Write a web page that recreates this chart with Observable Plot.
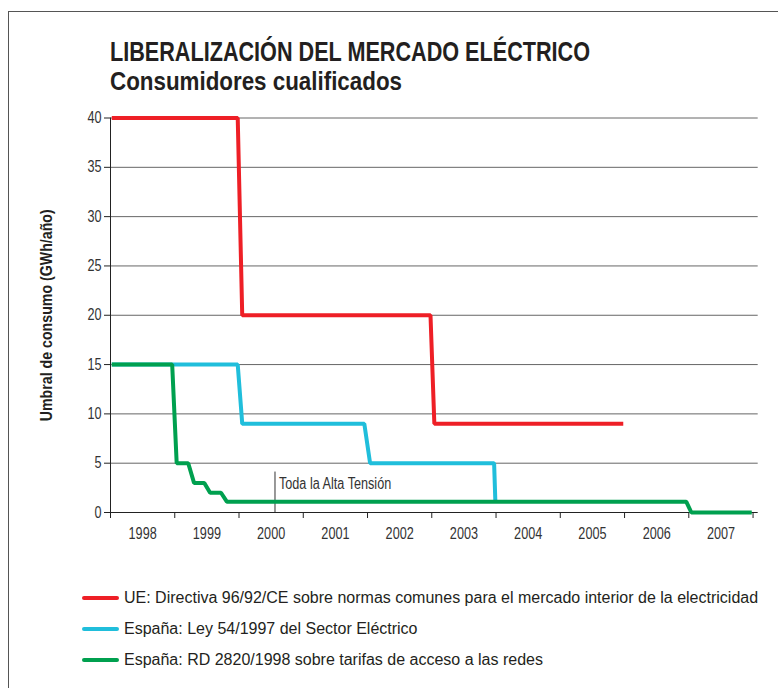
<!DOCTYPE html>
<html><head><meta charset="utf-8">
<script src="https://cdn.jsdelivr.net/npm/d3@7"></script>
<script src="https://cdn.jsdelivr.net/npm/@observablehq/plot@0.6"></script>
<style>
html,body{margin:0;padding:0;background:#fff;}
#wrap{position:relative;width:778px;height:688px;overflow:hidden;background:#fff;}
#frame{position:absolute;left:8px;top:11px;width:900px;height:900px;border-left:1.5px solid #555;border-top:1.5px solid #555;}
.ttl{font-family:"Liberation Sans",Arial,sans-serif;font-weight:bold;color:#231f20;white-space:nowrap;line-height:30px;transform-origin:0 50%;}
#t1{position:absolute;left:110px;top:37px;font-size:28px;}
#t2{position:absolute;left:110px;top:66px;font-size:25px;}
#chart{position:absolute;left:0;top:0;}
#legend{position:absolute;left:82px;top:582.5px;font-family:"Liberation Sans",Arial,sans-serif;font-size:16px;color:#231f20;}
.row{height:31px;display:flex;align-items:center;white-space:nowrap;}
.sw{display:inline-block;width:37px;height:4px;border-radius:2px;margin-right:5px;}
</style></head>
<body><div id="wrap">
<div id="frame"></div>
<div id="t1" class="ttl">LIBERALIZACIÓN DEL MERCADO ELÉCTRICO</div>
<div id="t2" class="ttl">Consumidores cualificados</div>
<div id="chart"></div>
<div id="legend"></div>
</div>
<script>
// Series: x in decimal years, y in GWh/año
const seriesNames = [
  "UE: Directiva 96/92/CE sobre normas comunes para el mercado interior de la electricidad",
  "España: Ley 54/1997 del Sector Eléctrico",
  "España: RD 2820/1998 sobre tarifas de acceso a las redes"
];
const seriesColors = ["#ee1f26", "#20bedb", "#00a04f"];

const redX = [1998.02, 1999.98, 2000.05, 2002.98, 2003.04, 2005.98];
const redY = [40, 40, 20, 20, 9, 9];

const cyanX = [1998.02, 1999.98, 2000.05, 2001.95, 2002.04, 2003.97, 2003.99];
const cyanY = [15, 15, 9, 9, 5, 5, 1];

const greenX = [1998.02, 1998.96, 1999.03, 1999.21, 1999.30, 1999.46, 1999.55, 1999.72, 1999.81, 2006.96, 2007.04, 2007.98];
const greenY = [15, 15, 5, 5, 3, 3, 2, 2, 1.1, 1.1, 0, 0];

const yTicks = [0, 5, 10, 15, 20, 25, 30, 35, 40];
const yearBounds = [1998, 1999, 2000, 2001, 2002, 2003, 2004, 2005, 2006, 2007, 2008];
const yearLabels = ["1998", "1999", "2000", "2001", "2002", "2003", "2004", "2005", "2006", "2007"];

const annotationX = [2000.56];
const annotationTop = [4.1];
const annotationText = ["Toda la Alta Tensión"];

const yLabel = "Umbral de consumo (GWh/año)";

const toPts = (xs, ys, k) => xs.map((x, i) => ({x, y: ys[i], k}));
const lines = [toPts(redX, redY, 0), toPts(cyanX, cyanY, 1), toPts(greenX, greenY, 2)];
const labels = yearLabels.map((t, i) => ({x: yearBounds[i] + 0.5, t}));
const ann = annotationX.map((x, i) => ({x, top: annotationTop[i], t: annotationText[i]}));

const FONT = '"Liberation Sans",Arial,sans-serif';

const chart = Plot.plot({
  width: 778,
  height: 560,
  marginLeft: 110,
  marginRight: 20.3,
  marginTop: 117.5,
  marginBottom: 48,
  style: {fontFamily: FONT, fontSize: "16px", color: "#333", background: "transparent"},
  x: {domain: [1998, 2008.08], axis: null},
  y: {domain: [0, 40], axis: null},
  marks: [
    Plot.ruleY(yTicks.filter(d => d > 0), {stroke: "#666", strokeWidth: 1}),
    Plot.axisY({ticks: yTicks, tickSize: 6, tickPadding: 3, label: null, fontSize: 16, stroke: "#222", fill: "#333", className: "narrowtxt"}),
    Plot.axisX({ticks: yearBounds, tickSize: 6, tickFormat: () => "", label: null, stroke: "#222"}),
    Plot.ruleX([1998], {y1: 0, y2: 40, stroke: "#222", strokeWidth: 1}),
    Plot.ruleY([0], {stroke: "#222", strokeWidth: 1}),
    Plot.text(labels, {x: "x", y: 0, dy: 21, text: "t", fontSize: 16, fill: "#333", className: "narrowtxt"}),
    Plot.ruleX(ann, {x: "x", y1: 0, y2: "top", stroke: "#333", strokeWidth: 1}),
    Plot.text(ann, {x: "x", y: 2.9, text: "t", textAnchor: "start", dx: 4, fontSize: 16, fill: "#333", className: "narrowtxt"}),
    Plot.line(lines[0], {x: "x", y: "y", stroke: seriesColors[0], strokeWidth: 4, strokeLinejoin: "miter", strokeLinecap: "butt"}),
    Plot.line(lines[1], {x: "x", y: "y", stroke: seriesColors[1], strokeWidth: 4, strokeLinejoin: "miter", strokeLinecap: "butt"}),
    Plot.line(lines[2], {x: "x", y: "y", stroke: seriesColors[2], strokeWidth: 4, strokeLinejoin: "miter", strokeLinecap: "butt"}),
    Plot.text([yLabel], {frameAnchor: "left", dx: -64, text: d => d, rotate: -90, textAnchor: "middle", fontWeight: "bold", fontSize: 16.5, fill: "#231f20", className: "ytitle"})
  ]
});
document.getElementById("chart").appendChild(chart);

// condensed look: squeeze text horizontally
function squeeze(t, factor) {
  const w = t.getComputedTextLength();
  t.setAttribute("textLength", w * factor);
  t.setAttribute("lengthAdjust", "spacingAndGlyphs");
}
chart.querySelectorAll(".narrowtxt text").forEach(t => squeeze(t, 0.79));
chart.querySelectorAll(".ytitle text").forEach(t => {
  t.setAttribute("textLength", 212);
  t.setAttribute("lengthAdjust", "spacingAndGlyphs");
});

function fitWidth(id, target) {
  const el = document.getElementById(id);
  const w = el.getBoundingClientRect().width;
  el.style.transform = `scaleX(${target / w})`;
}
fitWidth("t1", 480);
fitWidth("t2", 292);

const lg = document.getElementById("legend");
seriesNames.forEach((n, i) => {
  const r = document.createElement("div");
  r.className = "row";
  const s = document.createElement("span");
  s.className = "sw";
  s.style.background = seriesColors[i];
  const t = document.createElement("span");
  t.textContent = n;
  r.appendChild(s); r.appendChild(t);
  lg.appendChild(r);
});
</script>
</body></html>
